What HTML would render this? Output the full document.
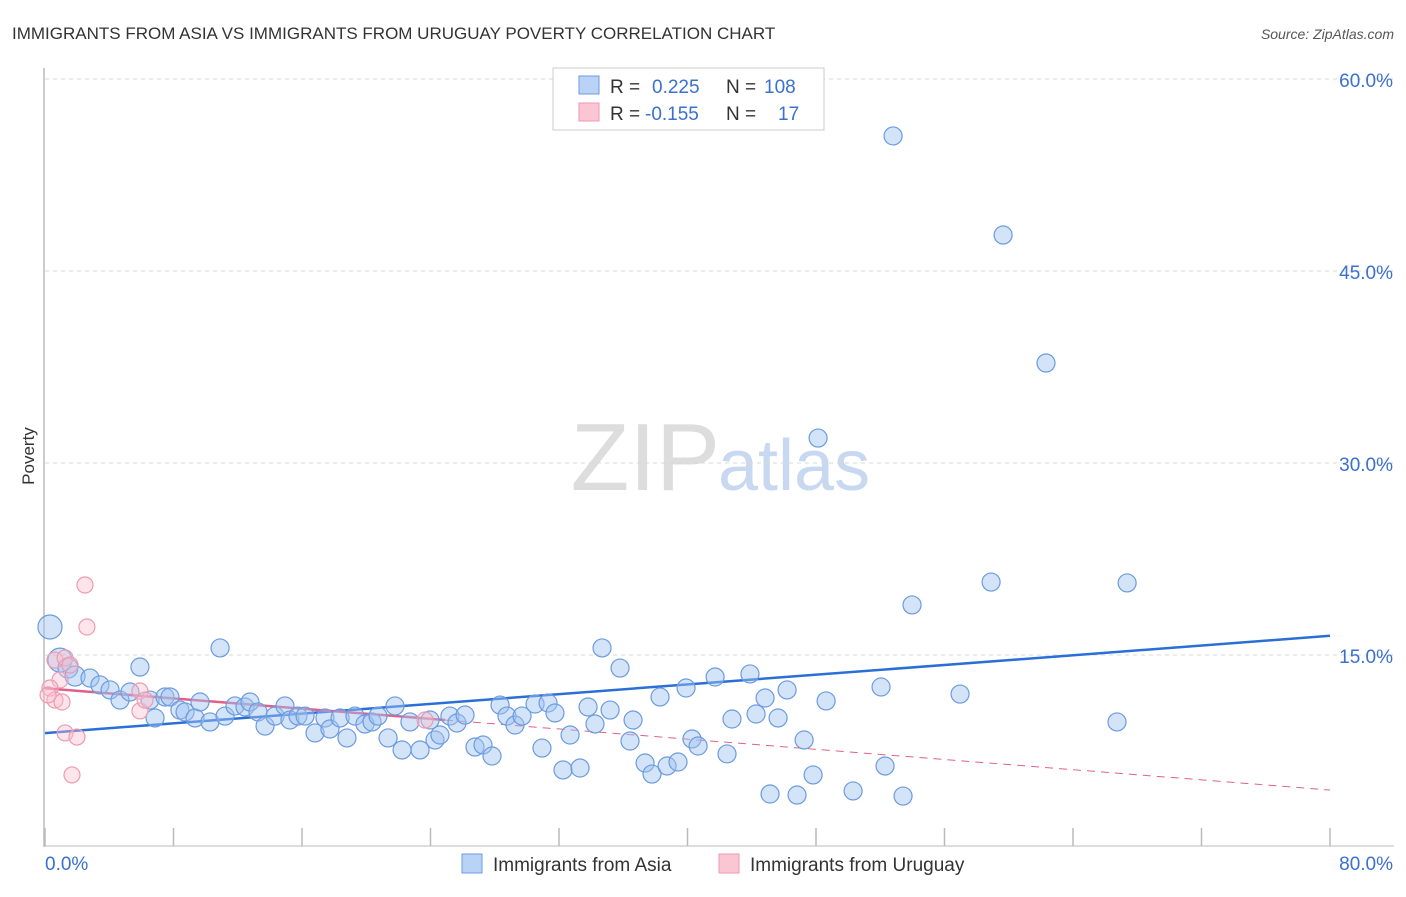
<!DOCTYPE html>
<html><head><meta charset="utf-8"><style>
body{margin:0;background:#fff;font-family:"Liberation Sans",sans-serif;}
svg text{font-family:"Liberation Sans",sans-serif;}
</style></head><body>
<svg id="chart" width="1406" height="892">
<text x="12" y="39" font-size="17" fill="#333">IMMIGRANTS FROM ASIA VS IMMIGRANTS FROM URUGUAY POVERTY CORRELATION CHART</text>
<text x="1394" y="39" font-size="14" fill="#555" text-anchor="end" font-style="italic">Source: ZipAtlas.com</text>
<text x="34" y="456" font-size="17" fill="#333" transform="rotate(-90 34 456)" text-anchor="middle">Poverty</text>
<text x="720" y="490" font-size="96" fill="#ddd" text-anchor="end" font-family="Liberation Serif">ZIP</text>
<text x="718" y="490" font-size="72" fill="#c8d8f0">atlas</text>
<g id="grid"></g><g id="axes"></g><g id="trend"></g><g id="pts"></g>
<g>
<rect x="553" y="68" width="271" height="62" fill="#fff" stroke="#ccc"/>
<rect x="579" y="76" width="20" height="18" fill="#b8d3f5" stroke="#6c9be0"/>
<rect x="579" y="103" width="20" height="18" fill="#fbc6d4" stroke="#ee9ab0"/>
<text x="610" y="93" font-size="19" fill="#333">R = </text><text x="652" y="93" font-size="19" fill="#3a70d0">0.225</text>
<text x="726" y="93" font-size="19" fill="#333">N = </text><text x="764" y="93" font-size="19" fill="#3a70d0">108</text>
<text x="610" y="120" font-size="19" fill="#333">R = </text><text x="645" y="120" font-size="19" fill="#3a70d0">-0.155</text>
<text x="726" y="120" font-size="19" fill="#333">N = </text><text x="778" y="120" font-size="19" fill="#3a70d0">17</text>
</g>
<g>
<rect x="462" y="854" width="20" height="19" fill="#b8d3f5" stroke="#6c9be0"/>
<text x="493" y="871" font-size="19" fill="#333">Immigrants from Asia</text>
<rect x="719" y="854" width="20" height="19" fill="#fbc6d4" stroke="#ee9ab0"/>
<text x="750" y="871" font-size="19" fill="#333">Immigrants from Uruguay</text>
</g>
</svg>
<script>
const asiaX=[0.31,0.93,1.43,1.87,2.8,3.42,4.05,4.67,5.29,5.91,6.54,6.85,7.47,7.78,8.4,8.72,9.34,9.65,10.27,10.9,11.21,11.83,12.45,12.76,13.26,13.7,14.32,14.94,15.25,15.75,16.19,16.81,17.43,17.74,18.37,18.8,19.3,19.92,20.36,20.73,21.36,21.79,22.23,22.72,23.35,23.97,24.28,24.59,25.21,25.65,26.15,26.77,27.27,27.83,28.33,28.76,29.26,29.7,30.51,30.94,31.32,31.75,32.25,32.69,33.31,33.81,34.24,34.68,35.18,35.8,36.42,36.61,37.36,37.79,38.29,38.73,39.41,39.91,40.28,40.66,41.72,42.46,42.77,43.89,44.27,44.83,45.14,45.64,46.2,46.82,47.26,47.82,48.13,48.63,50.31,52.05,52.3,52.8,53.42,53.98,56.97,58.9,59.65,62.32,66.74,67.37];
const asiaY=[17.19,14.6,13.98,13.36,13.2,12.66,12.27,11.48,12.11,14.06,11.48,10.08,11.72,11.72,10.7,10.55,10.08,11.33,9.77,15.55,10.23,11.02,10.94,11.33,10.55,9.45,10.23,11.02,9.92,10.23,10.23,8.91,10.08,9.22,10.08,8.52,10.23,9.61,9.77,10.23,8.52,11.02,7.58,9.77,7.58,9.92,8.36,8.75,10.23,9.69,10.31,7.81,7.97,7.11,11.09,10.23,9.53,10.23,11.17,7.73,11.25,10.47,6.02,8.75,6.17,10.94,9.61,15.55,10.7,13.98,8.28,9.92,6.56,5.7,11.72,6.33,6.64,12.42,8.44,7.89,13.28,7.27,10.0,13.52,10.39,11.64,4.14,10.08,12.27,4.06,8.36,5.63,31.95,11.41,4.38,12.5,6.33,55.55,3.98,18.91,11.95,20.7,47.81,37.81,9.77,20.63];
const uruX=[2.49,2.61,0.62,1.25,1.56,0.93,0.31,0.62,1.06,0.19,1.25,1.99,1.68,5.91,5.91,6.23,23.66];
const uruY=[20.47,17.19,14.6,14.77,14.22,13.05,12.42,11.48,11.33,11.88,8.91,8.59,5.63,12.19,10.63,11.48,9.92];
const yTicks=[15,30,45,60];
const xTicks=[0,8,16,24,32,40,48,56,64,72,80];
const asiaTrend=[8.9,16.5];
const uruTrend=[12.4,4.45];
const uruSolidEnd=24.9;
const NS='http://www.w3.org/2000/svg';
const sx=v=>45+v/80*1285, sy=v=>847-v*12.8;
function mk(tag,attrs,parent){const e=document.createElementNS(NS,tag);for(const k in attrs)e.setAttribute(k,attrs[k]);document.getElementById(parent).appendChild(e);return e;}
yTicks.forEach(t=>{
 const l=mk('line',{x1:45,x2:1394,y1:sy(t),y2:sy(t),stroke:'#d8d8d8','stroke-dasharray':'4,4'},'grid');
 
 
 const tx=mk('text',{x:1393,y:sy(t)+8,'font-size':19,fill:'#3a70d0','text-anchor':'end'},'grid');
 tx.textContent=t.toFixed(1)+'%';
 
 
});
const ax=mk('line',{x1:44,x2:44,y1:68,y2:847,stroke:'#bbb','stroke-width':1.5},'axes');


const bx=mk('line',{x1:44,x2:1394,y1:846,y2:846,stroke:'#bbb','stroke-width':1},'axes');


xTicks.forEach(t=>{
 const l=mk('line',{x1:sx(t),x2:sx(t),y1:828,y2:846,stroke:'#bbb','stroke-width':1.5},'axes');
 
 
});
[[0,'start',45],[80,'end',1393]].forEach(a=>{
 const tx=mk('text',{x:a[2],y:870,'font-size':19,fill:'#3a70d0','text-anchor':a[1]},'axes');
 tx.textContent=a[0].toFixed(1)+'%';
 
 
});
asiaX.forEach((x,i)=>{
 const big=i<2?12:(i<4?10:9);
 const c=mk('circle',{cx:sx(x),cy:sy(asiaY[i]),r:big,fill:'rgba(160,196,240,0.45)',stroke:'#6c9be0','stroke-width':1.2},'pts');
 
 
});
uruX.forEach((x,i)=>{
 const c=mk('circle',{cx:sx(x),cy:sy(uruY[i]),r:8,fill:'rgba(250,190,205,0.4)',stroke:'#ee9ab0','stroke-width':1.2},'pts');
 
 
});
const ay=v=>uruTrend[0]+(uruTrend[1]-uruTrend[0])*v/80;
const t1=mk('line',{x1:sx(0),y1:sy(asiaTrend[0]),x2:sx(80),y2:sy(asiaTrend[1]),stroke:'#2a6fd6','stroke-width':2.5},'trend');


const t2=mk('line',{x1:sx(0),y1:sy(uruTrend[0]),x2:sx(uruSolidEnd),y2:sy(ay(uruSolidEnd)),stroke:'#e0608a','stroke-width':2.5},'trend');


const t3=mk('line',{x1:sx(uruSolidEnd),y1:sy(ay(uruSolidEnd)),x2:sx(80),y2:sy(uruTrend[1]),stroke:'#e0608a','stroke-width':1,'stroke-dasharray':'8,6'},'trend');


</script>
</body></html>
